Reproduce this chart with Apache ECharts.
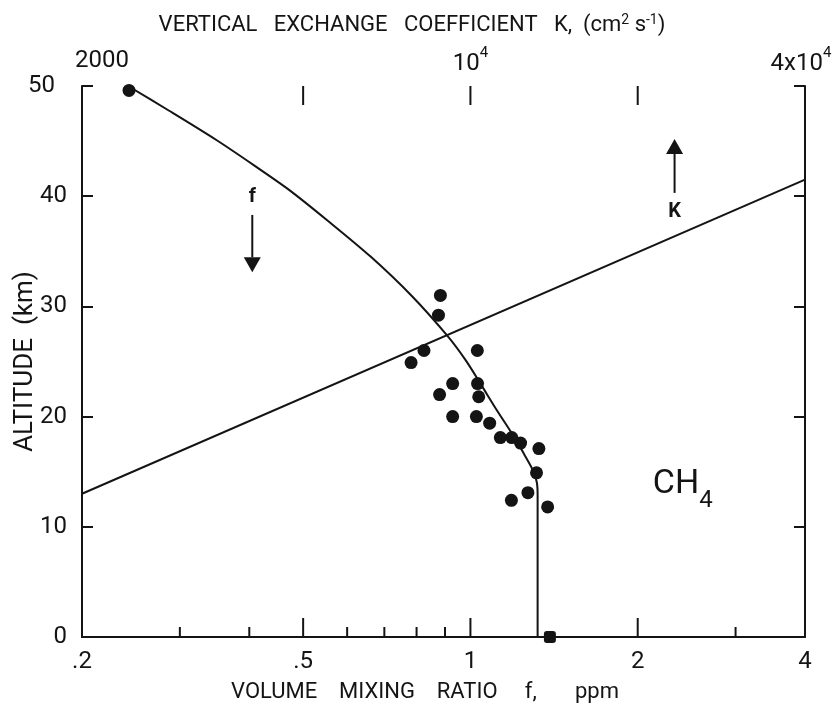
<!DOCTYPE html>
<html>
<head>
<meta charset="utf-8">
<script src="https://cdn.jsdelivr.net/npm/echarts@6/dist/echarts.min.js"></script>
<style>
  html, body { margin: 0; padding: 0; background: #ffffff; }
  #chart { width: 833px; height: 710px; }
</style>
</head>
<body>
<div id="chart"></div>
<script>
// CH4 altitude profile: mixing ratio f (bottom, log) and exchange coefficient K (top, log)

// altitude axis (km)
const altitudeRange = [0, 50];

// bottom axis: volume mixing ratio f (ppm)
const ratioRange = [0.2, 4];
const ratioMajorTicks = [0.5, 1, 2];
const ratioMinorTicks = [0.3, 0.4, 0.6, 0.7, 0.8, 0.9, 3];
const ratioTickValues = [0.2, 0.5, 1, 2, 4];
const ratioTickLabels = ['.2', '.5', '1', '2', '4'];

// top axis: vertical exchange coefficient K (cm2 s-1)
const kRange = [2000, 40000];
const kMajorTicks = [5000, 10000, 20000];
const kTickValues = [2000, 10000, 40000];
const kTickLabels = ['2000', '{n|10}{s|4}', '{n|4x10}{s|4}'];

// measured CH4 mixing ratios: [f (ppm), altitude (km)]
const ch4Measured = [
  [0.243, 49.6],
  [0.883, 31.0], [0.876, 29.2],
  [0.825, 26.0], [0.782, 24.9], [1.029, 26.0],
  [0.929, 23.0], [1.030, 23.0], [0.880, 22.0], [1.035, 21.8],
  [0.929, 20.0], [1.025, 20.0], [1.083, 19.4],
  [1.132, 18.1], [1.187, 18.1], [1.231, 17.6], [1.328, 17.1],
  [1.315, 14.9], [1.269, 13.1], [1.185, 12.4], [1.377, 11.8]
];
// ground-level value
const ch4Ground = [[1.39, 0]];

// model profile of f with altitude
const ratioProfile = [
  [0.242, 50.0], [0.286, 47.8], [0.349, 45.1], [0.408, 42.8],
  [0.471, 40.6], [0.553, 37.8], [0.662, 34.5], [0.786, 30.9],
  [0.910, 27.3], [0.981, 25.1], [1.045, 22.9], [1.115, 20.6],
  [1.204, 18.0], [1.252, 16.5], [1.299, 15.0], [1.317, 14.0],
  [1.321, 12.9], [1.321, 0]
];
// K profile (straight in log K against altitude)
const kProfile = [[2000, 13.0], [40000, 41.5]];

// annotation anchors
const fArrow = { f: 0.405, from: 38.3, to: 33.1, labelAlt: 39.9 };
const kArrow = { k: 23300, from: 40.3, to: 45.2, labelAlt: 38.6 };
const speciesLabel = { f: 2.41, alt: 13.3 };

const FONT = 'Roboto, "Liberation Sans", sans-serif';
const INK = '#141414';
const TICK_FONT = 24;
const TITLE_FONT = 22;

function tickSeries(xAxisIndex, values, atAlt, len, dir) {
  return {
    type: 'custom', xAxisIndex: xAxisIndex, yAxisIndex: 0,
    silent: true, clip: false, z: 4,
    data: values.map(v => [v, atAlt]),
    renderItem: (params, api) => {
      const p = api.coord([api.value(0), api.value(1)]);
      return {
        type: 'line',
        shape: { x1: p[0], y1: p[1], x2: p[0], y2: p[1] + dir * len },
        style: { stroke: INK, lineWidth: 2 }
      };
    }
  };
}

function labelSeries(xAxisIndex, values, labels, atAlt, dy) {
  return {
    type: 'custom', xAxisIndex: xAxisIndex, yAxisIndex: 0,
    silent: true, clip: false, z: 4,
    data: values.map(v => [v, atAlt]),
    renderItem: (params, api) => {
      const i = params.dataIndex;
      const n = values.length;
      const p = api.coord([api.value(0), api.value(1)]);
      let align = 'center', dx = 0;
      if (xAxisIndex === 1 && i === 0) { align = 'left'; dx = -7; }
      if (xAxisIndex === 1 && i === n - 1) { dx = -4; }
      return {
        type: 'text',
        x: p[0] + dx, y: p[1] + dy,
        style: {
          text: labels[i],
          align: align, verticalAlign: 'middle',
          fontSize: TICK_FONT, fontFamily: FONT, fill: INK,
          rich: {
            n: { fontSize: TICK_FONT, fontFamily: FONT, fill: INK, verticalAlign: 'bottom', lineHeight: 30 },
            s: { fontSize: 15, fontFamily: FONT, fill: INK, verticalAlign: 'top', lineHeight: 30 }
          }
        }
      };
    }
  };
}

const chart = echarts.init(document.getElementById('chart'), null, { renderer: 'canvas' });

const frameLine = { show: true, lineStyle: { color: INK, width: 2 } };

chart.setOption({
  backgroundColor: '#ffffff',
  animation: false,
  title: [
    {
      text: 'VERTICAL   EXCHANGE   COEFFICIENT   K,  (cm{s|2} s{s|-1})',
      left: 407, top: 8, textAlign: 'center',
      textStyle: {
        fontSize: TITLE_FONT, fontWeight: 'normal', fontFamily: FONT, color: INK,
        rich: { s: { fontSize: 14, fontFamily: FONT, color: INK, verticalAlign: 'top', lineHeight: 25 } }
      }
    },
    {
      text: 'VOLUME    MIXING    RATIO     f,       ppm',
      left: 420, top: 676, textAlign: 'center',
      textStyle: { fontSize: TITLE_FONT, fontWeight: 'normal', fontFamily: FONT, color: INK }
    }
  ],
  grid: { left: 82, right: 28, top: 86, bottom: 73, containLabel: false, outerBoundsMode: 'none' },
  xAxis: [
    {
      type: 'log', logBase: 10, position: 'bottom',
      min: ratioRange[0], max: ratioRange[1],
      axisLine: frameLine, axisTick: { show: false },
      axisLabel: { show: false }, splitLine: { show: false }
    },
    {
      type: 'log', logBase: 10, position: 'top',
      min: kRange[0], max: kRange[1],
      axisLine: frameLine, axisTick: { show: false },
      axisLabel: { show: false }, splitLine: { show: false }
    }
  ],
  yAxis: [
    {
      type: 'value', position: 'left',
      min: altitudeRange[0], max: altitudeRange[1], interval: 10,
      name: 'ALTITUDE  (km)', nameLocation: 'middle', nameGap: 44, nameRotate: 90,
      nameMoveOverlap: false,
      nameTextStyle: { fontSize: 26, fontFamily: FONT, color: INK },
      axisLine: frameLine,
      axisTick: { show: true, inside: true, length: 11, lineStyle: { color: INK, width: 2 } },
      axisLabel: {
        fontSize: TICK_FONT, fontFamily: FONT, color: INK, margin: 15,
        formatter: v => (v === altitudeRange[1] ? '{top|' + v + '}' : String(v)),
        rich: { top: { fontSize: TICK_FONT, fontFamily: FONT, color: INK, padding: [0, 12, 0, 0] } }
      },
      splitLine: { show: false }
    },
    {
      type: 'value', position: 'right',
      min: altitudeRange[0], max: altitudeRange[1], interval: 10,
      axisLine: frameLine,
      axisTick: { show: true, inside: true, length: 11, lineStyle: { color: INK, width: 2 } },
      axisLabel: { show: false },
      splitLine: { show: false }
    }
  ],
  series: [
    tickSeries(0, ratioMajorTicks, altitudeRange[0], 19, -1),
    tickSeries(0, ratioMinorTicks, altitudeRange[0], 10, -1),
    tickSeries(1, kMajorTicks, altitudeRange[1], 19, 1),
    labelSeries(0, ratioTickValues, ratioTickLabels, altitudeRange[0], 25),
    labelSeries(1, kTickValues, kTickLabels, altitudeRange[1], -25),
    {
      name: 'f model', type: 'line', xAxisIndex: 0, yAxisIndex: 0,
      data: ratioProfile, showSymbol: false, symbol: 'none',
      smooth: 0.3,
      lineStyle: { color: INK, width: 2 }, z: 2, silent: true
    },
    {
      name: 'K', type: 'line', xAxisIndex: 1, yAxisIndex: 0,
      data: kProfile, showSymbol: false, symbol: 'none',
      lineStyle: { color: INK, width: 2 }, z: 2, silent: true
    },
    {
      name: 'CH4 measured', type: 'scatter', xAxisIndex: 0, yAxisIndex: 0,
      data: ch4Measured, symbol: 'circle', symbolSize: 13,
      itemStyle: { color: INK, opacity: 1 }, z: 3, clip: false, silent: true
    },
    {
      name: 'CH4 ground', type: 'scatter', xAxisIndex: 0, yAxisIndex: 0,
      data: ch4Ground, symbol: 'roundRect', symbolSize: 12,
      itemStyle: { color: INK, opacity: 1 }, z: 5, clip: false, silent: true
    }
  ]
});

// arrows and labels placed in data space
function px(xAxisIndex, x, y) {
  return chart.convertToPixel({ xAxisIndex: xAxisIndex, yAxisIndex: 0 }, [x, y]);
}

function arrow(tail, tip) {
  const dir = tip[1] > tail[1] ? 1 : -1;
  const headH = 15, headW = 17;
  return [
    { type: 'line', shape: { x1: tail[0], y1: tail[1], x2: tip[0], y2: tip[1] - dir * headH },
      style: { stroke: INK, lineWidth: 2 } },
    { type: 'polygon',
      shape: { points: [[tip[0], tip[1]], [tip[0] - headW / 2, tip[1] - dir * headH], [tip[0] + headW / 2, tip[1] - dir * headH]] },
      style: { fill: INK } }
  ];
}

const fTail = px(0, fArrow.f, fArrow.from);
const fTip = px(0, fArrow.f, fArrow.to);
const fLab = px(0, fArrow.f, fArrow.labelAlt);
const kTail = px(1, kArrow.k, kArrow.from);
const kTip = px(1, kArrow.k, kArrow.to);
const kLab = px(1, kArrow.k, kArrow.labelAlt);
const spPos = px(0, speciesLabel.f, speciesLabel.alt);

chart.setOption({
  graphic: [].concat(
    arrow(fTail, fTip),
    arrow(kTail, kTip),
    [
      { type: 'text', x: fLab[0], y: fLab[1],
        style: { text: 'f', align: 'center', verticalAlign: 'middle', fontSize: 20, fontWeight: 'bold', fontFamily: FONT, fill: INK } },
      { type: 'text', x: kLab[0], y: kLab[1],
        style: { text: 'K', align: 'center', verticalAlign: 'middle', fontSize: 20, fontWeight: 'bold', fontFamily: FONT, fill: INK } },
      { type: 'text', x: spPos[0], y: spPos[1],
        style: {
          text: '{m|CH}{u|4}', align: 'center', verticalAlign: 'middle',
          rich: {
            m: { fontSize: 34, fontFamily: FONT, fill: INK, verticalAlign: 'top', lineHeight: 46 },
            u: { fontSize: 24, fontFamily: FONT, fill: INK, verticalAlign: 'bottom', lineHeight: 46 }
          }
        } }
    ]
  )
});
</script>
</body>
</html>
